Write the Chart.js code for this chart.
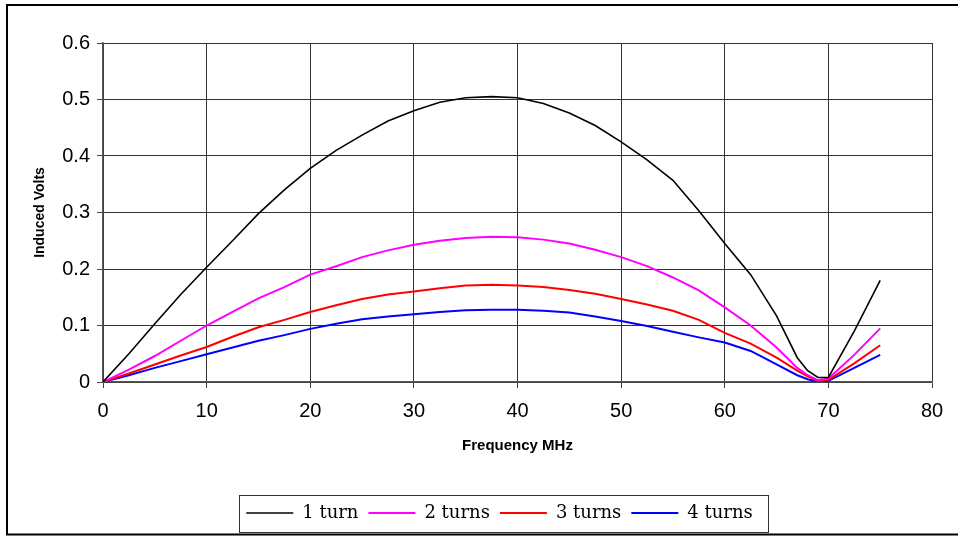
<!DOCTYPE html>
<html>
<head>
<meta charset="utf-8">
<script src="https://cdn.jsdelivr.net/npm/chart.js@4/dist/chart.umd.min.js"></script>
<style>
  html, body { margin: 0; padding: 0; background: #fff; }
  #wrap { width: 958px; height: 536px; position: relative; }
</style>
</head>
<body>
<div id="wrap"><canvas id="c" width="958" height="536"></canvas></div>
<script>
// Frequency (MHz)
const freqs = [0, 2.5, 5, 7.5, 10, 12.5, 15, 17.5, 20, 22.5, 25, 27.5, 30, 32.5, 35, 37.5, 40, 42.5, 45, 47.5, 50, 52.5, 55, 57.5, 60, 62.5, 65, 67, 68, 69, 70, 72.5, 75];
// Induced volts
const turn1 = [0, 0.05, 0.103, 0.155, 0.203, 0.25, 0.298, 0.34, 0.378, 0.41, 0.437, 0.462, 0.48, 0.495, 0.503, 0.505, 0.503, 0.493, 0.476, 0.454, 0.425, 0.393, 0.357, 0.303, 0.245, 0.19, 0.117, 0.043, 0.02, 0.008, 0.008, 0.09, 0.18];
const turn2 = [0, 0.022, 0.046, 0.073, 0.1, 0.124, 0.148, 0.168, 0.19, 0.205, 0.221, 0.233, 0.243, 0.25, 0.255, 0.257, 0.256, 0.252, 0.245, 0.234, 0.221, 0.205, 0.185, 0.162, 0.132, 0.1, 0.061, 0.025, 0.012, 0.003, 0.006, 0.048, 0.095];
const turn3 = [0, 0.015, 0.031, 0.047, 0.062, 0.08, 0.097, 0.11, 0.124, 0.136, 0.147, 0.155, 0.16, 0.166, 0.171, 0.172, 0.171, 0.168, 0.163, 0.156, 0.147, 0.137, 0.126, 0.11, 0.087, 0.068, 0.043, 0.02, 0.01, 0.002, 0.004, 0.033, 0.065];
const turn4 = [0, 0.012, 0.025, 0.037, 0.049, 0.061, 0.073, 0.083, 0.094, 0.103, 0.111, 0.116, 0.12, 0.124, 0.127, 0.128, 0.128, 0.126, 0.123, 0.116, 0.108, 0.099, 0.089, 0.079, 0.07, 0.055, 0.031, 0.012, 0.005, 0.0, 0.002, 0.025, 0.048];
const seriesNames = ['1 turn', '2 turns', '3 turns', '4 turns'];
const xTicks = [0, 10, 20, 30, 40, 50, 60, 70, 80];
const yTicks = [0, 0.1, 0.2, 0.3, 0.4, 0.5, 0.6];

const seriesData = [turn1, turn2, turn3, turn4];
const colors = ['#000000', '#FF00FF', '#FF0000', '#0000FF'];
const widths = [1.6, 2, 2, 2];

const datasets = seriesData.map((arr, i) => ({
  label: seriesNames[i],
  data: freqs.map((f, j) => ({ x: f, y: arr[j] })),
  borderColor: colors[i],
  backgroundColor: colors[i],
  borderWidth: widths[i],
  pointRadius: 0,
  pointStyle: 'line',
  showLine: true,
  fill: false,
  tension: 0
}));

const LEGEND_SHIFT = 20;

const framePlugin = {
  id: 'frame',
  afterUpdate(chart) {
    const lg = chart.legend;
    if (!lg) return;
    lg.left += LEGEND_SHIFT;
    lg.right += LEGEND_SHIFT;
    (lg.legendHitBoxes || []).forEach(h => { h.left += LEGEND_SHIFT; });
  },
  afterDraw(chart) {
    const ctx = chart.ctx;
    ctx.save();
    // outer frame
    ctx.strokeStyle = '#000';
    ctx.lineWidth = 2;
    ctx.beginPath();
    ctx.moveTo(970, 5);
    ctx.lineTo(7, 5);
    ctx.lineTo(7, 534.5);
    ctx.lineTo(970, 534.5);
    ctx.stroke();
    // legend box
    const lg = chart.legend;
    if (lg && lg.legendHitBoxes && lg.legendHitBoxes.length) {
      const hb = lg.legendHitBoxes;
      const first = hb[0], last = hb[hb.length - 1];
      const cy = first.top + first.height / 2;
      const l = Math.round(first.left - 7) + 0.5;
      const r = Math.round(last.left + last.width + 15) + 0.5;
      const t = Math.round(cy - 18) + 0.5;
      const b = Math.round(cy + 19) + 0.5;
      ctx.strokeStyle = '#333';
      ctx.lineWidth = 1;
      ctx.strokeRect(l, t, r - l, b - t);
    }
    ctx.restore();
  }
};

new Chart(document.getElementById('c'), {
  type: 'scatter',
  data: { datasets },
  plugins: [framePlugin],
  options: {
    responsive: false,
    animation: false,
    events: [],
    layout: { padding: { left: 27, right: 26, top: 43, bottom: 4 } },
    plugins: {
      tooltip: { enabled: false },
      legend: {
        position: 'bottom',
        labels: {
          usePointStyle: true,
          pointStyle: 'line',
          pointStyleWidth: 47,
          padding: 10,
          color: '#000',
          font: { family: '"DejaVu Serif", serif', size: 18 }
        }
      }
    },
    scales: {
      x: {
        type: 'linear',
        min: 0, max: 80,
        afterBuildTicks(scale) { scale.ticks = xTicks.map(v => ({ value: v })); },
        afterFit(scale) { scale.height = 112; },
        ticks: {
          color: '#000',
          padding: 11,
          maxRotation: 0,
          font: { family: '"Liberation Sans", Arial, sans-serif', size: 20 }
        },
        grid: { color: '#333', lineWidth: 1, tickLength: 6, tickColor: '#444' },
        border: { color: '#555', width: 1.5 },
        title: {
          display: true,
          text: 'Frequency MHz',
          color: '#000',
          padding: { top: 0, bottom: 39 },
          font: { family: '"Liberation Sans", Arial, sans-serif', size: 15, weight: 'bold' }
        }
      },
      y: {
        min: 0, max: 0.6,
        afterBuildTicks(scale) { scale.ticks = yTicks.map(v => ({ value: v })); },
        afterFit(scale) { scale.width = 76; },
        ticks: {
          color: '#000',
          padding: 7,
          callback: (v) => String(Math.round(v * 10) / 10),
          font: { family: '"Liberation Sans", Arial, sans-serif', size: 20 }
        },
        grid: { color: '#333', lineWidth: 1, tickLength: 6, tickColor: '#444' },
        border: { color: '#555', width: 1.5 },
        title: {
          display: true,
          text: 'Induced Volts',
          color: '#000',
          padding: { top: 5, bottom: 0 },
          font: { family: '"Liberation Sans", Arial, sans-serif', size: 14, weight: 'bold' }
        }
      }
    }
  }
});
</script>
</body>
</html>
